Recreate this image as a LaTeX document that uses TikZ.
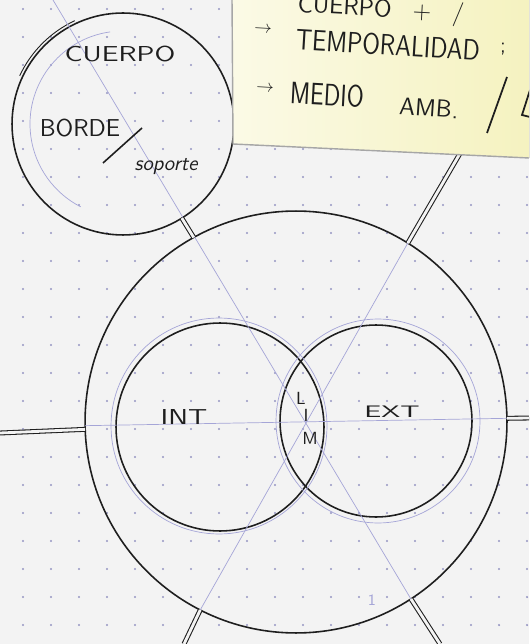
\documentclass[tikz,border=0pt]{standalone}
\usetikzlibrary{positioning,calc}
\definecolor{ink}{RGB}{30,30,30}
\definecolor{paper}{RGB}{243,243,243}
\definecolor{pencil}{RGB}{165,165,215}
\definecolor{dotcol}{RGB}{150,150,195}
\definecolor{notelight}{RGB}{251,250,230}
\definecolor{notecol}{RGB}{245,242,192}
\tikzset{
  ring/.style={circle, draw=ink, line width=0.9pt, inner sep=0pt, outer sep=0pt},
  pencilring/.style={circle, draw=pencil, line width=0.4pt, inner sep=0pt, outer sep=0pt},
  pencil/.style={draw=pencil, line width=0.4pt},
  spoke/.style={draw=ink, line width=0.6pt, double=paper, double distance=1.6pt},
  hand/.style={text=ink, inner sep=0pt},
}
\newcommand{\handfont}[1]{\sffamily\fontsize{#1}{#1}\selectfont}

\begin{document}
\begin{tikzpicture}[x=0.02cm, y=-0.02cm]
  \useasboundingbox (0,0) rectangle (529,644);
  \clip (0,0) rectangle (529,644);
  \fill[paper] (0,0) rectangle (529,644);

  % Dotted paper
  \foreach \i in {0,...,18}
    \foreach \j in {0,...,22}
      \fill[dotcol] (23+28*\i, 9+28*\j) circle[radius=0.7pt];

  % Circles
  \node[ring, minimum size=8.44cm] (big) at (296,422) {};
  \node[ring, minimum size=4.16cm] (int) at (220,427) {};
  \node[ring, minimum size=3.84cm] (ext) at (376,421) {};
  \node[ring, minimum size=4.44cm] (cuerpo) at (123,124) {};
  \node[pencilring, minimum size=4.32cm] (intp) at (219,426) {};
  \node[pencilring, minimum size=4.08cm] (extp) at (378,421) {};
  \draw[ink, line width=0.5pt] (123,124) ++(205:114) arc[start angle=205, end angle=245, radius=114];
  \draw[pencil] (123,124) ++(262:93) arc[start angle=262, end angle=117, radius=93];

  % Pencil guide lines
  \coordinate (topcut) at (53,0);
  \draw[pencil] (topcut) -- (big.303);
  \draw[pencil] (big.58.4) -- (big.243.3);
  \draw[pencil] (big.181.5) -- (big.1.1);

  % Spokes
  \coordinate (noteend) at (462,150);
  \coordinate (leftend) at (0,433);
  \coordinate (rightend) at (529,418);
  \coordinate (blend) at (184,644);
  \coordinate (brend) at (440,644);
  \draw[spoke] (big.119.3) -- (cuerpo.-58.8);
  \draw[spoke] (big.58.4) -- (noteend);
  \draw[spoke] (big.182.7) -- (leftend);
  \draw[spoke] (big.1.1) -- (rightend);
  \draw[spoke] (big.243.3) -- (blend);
  \draw[spoke] (big.303) -- (brend);

  % Sticky note
  \fill[left color=notelight, right color=notecol] (232,-2) -- (233,144) -- (529,158) -- (529,-2) -- cycle;
  \draw[gray!70, line width=0.8pt] (232,-2) -- (233,144) -- (529,158);

  % Note text
  \node[hand, anchor=base west, rotate=-3, font=\handfont{13.9}] (line1) at (297,12)
    {CUERPO\hspace{12pt}+\hspace{12pt}/};
  \node[hand, rotate=-3, font=\handfont{10}] (arr2) at (263,30) {$\rightarrow$};
  \node[hand, rotate=-3.5, font=\handfont{13.9}] (temp) at (388,45) {\scalebox{1}[1.2]{TEMPORALIDAD}};
  \node[hand, font=\handfont{12}] (semi) at (503,49) {;};
  \node[hand, rotate=-3, font=\handfont{10}] (arr3) at (265,89) {$\rightarrow$};
  \node[hand, rotate=-3, font=\handfont{16}] (medio) at (327,95) {\scalebox{0.87}[1.1]{MEDIO}};
  \node[hand, rotate=-4, font=\handfont{13.9}] (amb) at (429,108) {AMB.};
  \draw[ink, line width=1pt] (487,133) -- (507,77);
  \draw[ink, line width=1pt] (530,90) -- (522,115) -- (530,117);

  % Circle labels
  \node[hand, font=\handfont{12.3}] (lcuerpo) at (120,54) {\scalebox{1.33}[1]{CUERPO}};
  \node[hand, font=\handfont{13.9}] (lborde) at (80,128) {BORDE};
  \node[hand, font=\handfont{12}\itshape] (lsoporte) at (166,167) {soporte};
  \draw[ink, line width=0.9pt] (103,163) -- (142,128);
  \node[hand, font=\handfont{12.3}] (lint) at (184,417) {\scalebox{1.33}[1]{INT}};
  \node[hand, font=\handfont{9.5}] (lext) at (392,412) {\scalebox{1.7}[1]{EXT}};
  \node[hand, font=\handfont{10}] (l1) at (301,398) {L};
  \node[hand, font=\handfont{10}] (l2) at (306,415) {I};
  \node[hand, font=\handfont{10}] (l3) at (310,438) {M};
  \node[hand, text=pencil, font=\handfont{9}] (mark) at (372,600) {1};
\end{tikzpicture}
\end{document}
